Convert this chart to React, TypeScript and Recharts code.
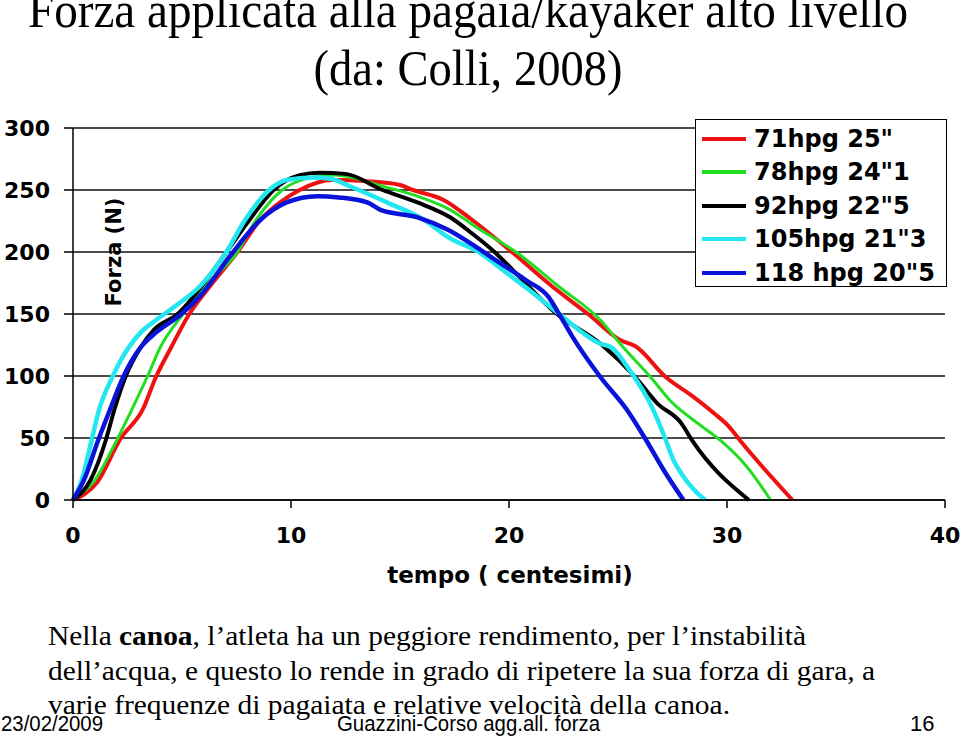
import React from 'react';
import { LineChart, Line, XAxis, YAxis, CartesianGrid, Legend } from 'recharts';

// force (N) against time (hundredths of a second)
const red71 = [
  { x: 0, y: 0 }, { x: 1.1, y: 14 }, { x: 2.2, y: 50 }, { x: 3.2, y: 73 }, { x: 3.8, y: 99 },
  { x: 4.5, y: 123 }, { x: 5.3, y: 149 }, { x: 6.4, y: 175 }, { x: 7.5, y: 199 }, { x: 8.6, y: 226 },
  { x: 9.5, y: 240 }, { x: 10.4, y: 250 }, { x: 11.9, y: 258 }, { x: 13.5, y: 257 }, { x: 15.0, y: 254 },
  { x: 15.6, y: 250 }, { x: 17.0, y: 242 }, { x: 18.3, y: 226 }, { x: 20.2, y: 199 }, { x: 22.0, y: 172 },
  { x: 23.7, y: 149 }, { x: 25.1, y: 129 }, { x: 25.8, y: 124 }, { x: 27.2, y: 99 }, { x: 28.4, y: 84 },
  { x: 29.4, y: 70 }, { x: 30.1, y: 59 }, { x: 30.6, y: 48 }, { x: 33.0, y: 0 },
];
const green78 = [
  { x: 0, y: 0 }, { x: 1.0, y: 16 }, { x: 2.0, y: 48 }, { x: 2.7, y: 73 }, { x: 3.4, y: 99 },
  { x: 4.0, y: 123 }, { x: 5.0, y: 149 }, { x: 6.2, y: 175 }, { x: 7.5, y: 199 }, { x: 8.4, y: 226 },
  { x: 9.6, y: 250 }, { x: 10.9, y: 260 }, { x: 12.0, y: 262 }, { x: 14.2, y: 253 }, { x: 15.8, y: 245 },
  { x: 17.3, y: 234 }, { x: 18.5, y: 220 }, { x: 20.4, y: 199 }, { x: 22.3, y: 172 }, { x: 24.2, y: 145 },
  { x: 25.2, y: 124 }, { x: 26.5, y: 99 }, { x: 27.4, y: 80 }, { x: 28.8, y: 60 }, { x: 29.7, y: 48 },
  { x: 30.9, y: 27 }, { x: 32.0, y: 0 },
];
const black92 = [
  { x: 0, y: 0 }, { x: 0.8, y: 16 }, { x: 1.5, y: 48 }, { x: 1.9, y: 73 }, { x: 2.4, y: 99 },
  { x: 3.1, y: 123 }, { x: 3.7, y: 137 }, { x: 4.8, y: 150 }, { x: 6.1, y: 177 }, { x: 7.0, y: 199 },
  { x: 8.1, y: 226 }, { x: 9.2, y: 250 }, { x: 10.4, y: 262 }, { x: 11.3, y: 264 }, { x: 12.5, y: 263 },
  { x: 14.2, y: 250 }, { x: 15.8, y: 240 }, { x: 17.3, y: 228 }, { x: 18.3, y: 215 }, { x: 19.4, y: 199 },
  { x: 20.2, y: 185 }, { x: 22.2, y: 150 }, { x: 24.2, y: 126 }, { x: 25.8, y: 99 }, { x: 26.8, y: 78 },
  { x: 27.9, y: 62 }, { x: 28.4, y: 48 }, { x: 31.0, y: 0 },
];
const cyan105 = [
  { x: 0, y: 0 }, { x: 0.4, y: 16 }, { x: 0.85, y: 48 }, { x: 1.2, y: 73 }, { x: 1.8, y: 99 },
  { x: 2.2, y: 113 }, { x: 3.1, y: 135 }, { x: 3.8, y: 145 }, { x: 4.9, y: 159 }, { x: 5.8, y: 172 },
  { x: 7.0, y: 199 }, { x: 7.9, y: 226 }, { x: 9.0, y: 250 }, { x: 9.8, y: 258 }, { x: 11.0, y: 260 },
  { x: 11.8, y: 259 }, { x: 12.7, y: 253 }, { x: 14.4, y: 240 }, { x: 16.1, y: 226 }, { x: 17.2, y: 212 },
  { x: 18.7, y: 199 }, { x: 19.9, y: 183 }, { x: 21.1, y: 167 }, { x: 22.3, y: 150 }, { x: 24.2, y: 126 },
  { x: 24.7, y: 123 }, { x: 25.6, y: 103 }, { x: 26.5, y: 77 }, { x: 27.2, y: 48 }, { x: 27.5, y: 34 },
  { x: 28.0, y: 19 }, { x: 28.5, y: 8 }, { x: 29.0, y: 0 },
];
const blue118 = [
  { x: 0, y: 0 }, { x: 0.5, y: 16 }, { x: 1.15, y: 48 }, { x: 1.7, y: 73 }, { x: 2.3, y: 99 },
  { x: 3.1, y: 123 }, { x: 3.8, y: 135 }, { x: 4.9, y: 149 }, { x: 5.8, y: 164 }, { x: 7.3, y: 199 },
  { x: 8.6, y: 226 }, { x: 9.8, y: 240 }, { x: 11.2, y: 245 }, { x: 12.2, y: 244 }, { x: 13.5, y: 240 },
  { x: 14.1, y: 234 }, { x: 15.8, y: 228 }, { x: 17.2, y: 218 }, { x: 18.5, y: 204 }, { x: 19.6, y: 191 },
  { x: 20.8, y: 177 }, { x: 21.8, y: 164 }, { x: 22.3, y: 150 }, { x: 22.9, y: 132 }, { x: 24.2, y: 99 },
  { x: 25.4, y: 73 }, { x: 26.3, y: 48 }, { x: 27.1, y: 24 }, { x: 28.0, y: 0 },
];

const seriesNames = ['71hpg 25"', '78hpg 24"1', '92hpg 22"5', '105hpg 21"3', '118 hpg 20"5'];
const xTicks = [0, 10, 20, 30, 40];
const yTicks = [0, 50, 100, 150, 200, 250, 300];

const titleLines = ['Forza applicata alla pagaia/kayaker alto livello', '(da: Colli, 2008)'];
const footer = ['23/02/2009', 'Guazzini-Corso agg.all. forza', '16'];

const sans = 'DejaVu Sans, Verdana, sans-serif';
const serif = 'Liberation Serif, Times New Roman, serif';

const LegendBox = (props: any) => {
  // keep the legend in series order, not alphabetical
  const items = [...(props.payload || [])].sort(
    (a: any, b: any) => seriesNames.indexOf(a.value) - seriesNames.indexOf(b.value)
  );
  return (
    <div style={{
      width: 252, height: 168, boxSizing: 'border-box', border: '1.5px solid #000',
      background: '#fff', paddingTop: 2,
    }}>
      {items.map((it: any) => (
        <div key={it.value} style={{ height: 33.5, display: 'flex', alignItems: 'center' }}>
          <span style={{ display: 'inline-block', width: 44, height: 4, background: it.color, marginLeft: 6, marginRight: 8 }} />
          <span style={{ fontFamily: sans, fontWeight: 'bold', fontSize: 24, color: '#000', whiteSpace: 'nowrap' }}>
            {it.value}
          </span>
        </div>
      ))}
    </div>
  );
};

const App: React.FC = () => {
  return (
    <div style={{ position: 'absolute', left: 0, top: 0, width: 960, height: 736, background: '#fff' }}>
      <LineChart width={960} height={736} margin={{ top: 128, right: 15, bottom: 206, left: 0 }}>
        <CartesianGrid vertical={false} stroke="#111" strokeWidth={1.5} />
        <XAxis
          type="number" dataKey="x" domain={[0, 40]} ticks={xTicks} height={30}
          tickSize={8} tickMargin={19} stroke="#000" strokeWidth={1.5}
          tick={{ fill: '#000', fontFamily: sans, fontWeight: 'bold', fontSize: 22 }}
        />
        <YAxis
          type="number" dataKey="y" domain={[0, 300]} ticks={yTicks} width={73}
          tickSize={9} tickMargin={14} stroke="#000" strokeWidth={1.5}
          tick={{ fill: '#000', fontFamily: sans, fontWeight: 'bold', fontSize: 22 }}
        />
        <Legend
          layout="vertical" align="center" verticalAlign="middle"
          wrapperStyle={{ left: 695, top: 119, width: 252, height: 168 }}
          content={<LegendBox />}
        />
        <Line data={red71} dataKey="y" name={seriesNames[0]} type="monotone" stroke="#ee1111" strokeWidth={4} dot={false} isAnimationActive={false} />
        <Line data={green78} dataKey="y" name={seriesNames[1]} type="monotone" stroke="#22dd22" strokeWidth={3} dot={false} isAnimationActive={false} />
        <Line data={black92} dataKey="y" name={seriesNames[2]} type="monotone" stroke="#000000" strokeWidth={4} dot={false} isAnimationActive={false} />
        <Line data={cyan105} dataKey="y" name={seriesNames[3]} type="monotone" stroke="#22e6f0" strokeWidth={4.5} dot={false} isAnimationActive={false} />
        <Line data={blue118} dataKey="y" name={seriesNames[4]} type="monotone" stroke="#0a14d8" strokeWidth={4.5} dot={false} isAnimationActive={false} />
      </LineChart>
      <svg width={960} height={736} style={{ position: 'absolute', left: 0, top: 0, pointerEvents: 'none' }}>
        <text x={468} y={27} textAnchor="middle" fontFamily={serif} fontSize={50} textLength={880} lengthAdjust="spacingAndGlyphs">{titleLines[0]}</text>
        <text x={468} y={85} textAnchor="middle" fontFamily={serif} fontSize={50} textLength={309} lengthAdjust="spacingAndGlyphs">{titleLines[1]}</text>
        <text transform="translate(121,252) rotate(-90)" textAnchor="middle" fontFamily={sans} fontWeight="bold" fontSize={21}>Forza (N)</text>
        <text x={510} y={583} textAnchor="middle" fontFamily={sans} fontWeight="bold" fontSize={23}>tempo ( centesimi)</text>
        <text x={48} y={645} fontFamily={serif} fontSize={28} textLength={758} lengthAdjust="spacingAndGlyphs">
          Nella <tspan fontWeight="bold">canoa</tspan>, l’atleta ha un peggiore rendimento, per l’instabilità
        </text>
        <text x={48} y={680} fontFamily={serif} fontSize={28} textLength={827} lengthAdjust="spacingAndGlyphs">
          dell’acqua, e questo lo rende in grado di ripetere la sua forza di gara, a
        </text>
        <text x={48} y={714} fontFamily={serif} fontSize={28} textLength={682} lengthAdjust="spacingAndGlyphs">
          varie frequenze di pagaiata e relative velocità della canoa.
        </text>
        <text x={1} y={731} fontFamily="Liberation Sans, Arial, sans-serif" fontSize={22} textLength={102} lengthAdjust="spacingAndGlyphs">{footer[0]}</text>
        <text x={337} y={731} fontFamily="Liberation Sans, Arial, sans-serif" fontSize={22} textLength={263} lengthAdjust="spacingAndGlyphs">{footer[1]}</text>
        <text x={910} y={731} fontFamily="Liberation Sans, Arial, sans-serif" fontSize={22}>{footer[2]}</text>
      </svg>
    </div>
  );
};

export default App;
